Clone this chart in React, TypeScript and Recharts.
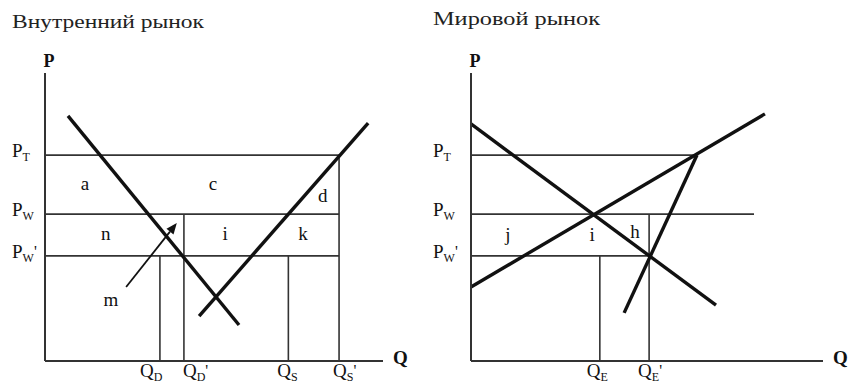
import { ComposedChart, Line, XAxis, YAxis, ReferenceLine, ReferenceDot } from "recharts";

// Внутренний рынок (левый график)
const homePriceTicks = [71.5, 51, 36.5];
const homePriceNames = ["T", "W", "W'"];
const homePriceEnds = [87, 87, 87];
const homeQtyTicks = [34, 41.1, 72, 87];
const homeQtyNames = ["D", "D'", "S", "S'"];
const homeQtyTops = [36.5, 51, 36.5, 71.5];
const homeDemand = [{ q: 6.8, p: 85.1 }, { q: 57.4, p: 12.5 }];
const homeSupply = [{ q: 45.6, p: 15.6 }, { q: 95.6, p: 82.6 }];
const homeArrow = [{ q: 24, p: 25.7 }, { q: 39, p: 47.9 }];
const homeAreaNames = ["a", "c", "d", "n", "i", "k", "m"];
const homeAreaQ = [11.8, 49.7, 82.2, 18, 53.3, 76.3, 19.5];
const homeAreaP = [61.8, 61.5, 57.3, 44.4, 44.4, 44.4, 21.2];

// Мировой рынок (правый график)
const worldPriceTicks = [71.5, 51, 36.5];
const worldPriceNames = ["T", "W", "W'"];
const worldPriceEnds = [64.2, 80.4, 50.6];
const worldQtyTicks = [36.6, 50.6];
const worldQtyNames = ["E", "E'"];
const worldQtyTops = [36.5, 51];
const worldDemand = [{ q: 0, p: 82.3 }, { q: 69.6, p: 19.4 }];
const worldSupply = [{ q: 0, p: 25.7 }, { q: 83.5, p: 85.8 }];
const worldSupplyTariff = [{ q: 43.5, p: 16.7 }, { q: 64.2, p: 71.5 }];
const worldAreaNames = ["j", "i", "h"];
const worldAreaQ = [10.5, 34.4, 46.6];
const worldAreaP = [43.8, 43.8, 44.8];

const FONT = "'Liberation Serif', 'Times New Roman', serif";
const INK = "#111";
const GUIDE = "#333";

const SubLabel = ({ x, y, base, name, anchor }: any) => {
  const prime = name.endsWith("'");
  const sub = prime ? name.slice(0, -1) : name;
  return (
    <text x={x} y={y} textAnchor={anchor} fontFamily={FONT} fill={INK}>
      <tspan fontSize={19}>{base}</tspan>
      <tspan fontSize={12} dy={4}>{sub}</tspan>
      {prime && <tspan fontSize={16} dy={-5}>'</tspan>}
    </text>
  );
};

const makeYTick = (ticks: number[], names: string[], shift: number) => (props: any) => {
  const i = ticks.indexOf(props.payload.value);
  return <SubLabel x={props.x - shift} y={props.y + 2} base="P" name={names[i]} anchor="start" />;
};

const makeXTick = (ticks: number[], names: string[], shifts: number[]) => (props: any) => {
  const i = ticks.indexOf(props.payload.value);
  return <SubLabel x={props.x + shifts[i]} y={props.y + 16} base="Q" name={names[i]} anchor="start" />;
};

const ArrowShape = (props: any) => {
  const { x1, y1, x2, y2 } = props;
  const a = Math.atan2(y2 - y1, x2 - x1);
  const L = 11;
  const W = 4.5;
  const bx = x2 - L * Math.cos(a);
  const by = y2 - L * Math.sin(a);
  const pts = `${x2},${y2} ${bx + W * Math.sin(a)},${by - W * Math.cos(a)} ${bx - W * Math.sin(a)},${by + W * Math.cos(a)}`;
  return (
    <g>
      <line x1={x1} y1={y1} x2={bx} y2={by} stroke={INK} strokeWidth={1.8} />
      <polygon points={pts} fill={INK} />
    </g>
  );
};

const letter = (name: string) => (props: any) => (
  <text x={props.cx} y={props.cy} textAnchor="middle" dominantBaseline="central" fontSize={19} fontFamily={FONT} fill={INK}>
    {name}
  </text>
);

const axisP = (props: any) => {
  const vb = props.viewBox;
  return (
    <text x={vb.x + vb.width + 4} y={vb.y - 6} textAnchor="middle" fontSize={18} fontWeight="bold" fontFamily={FONT} fill={INK}>
      P
    </text>
  );
};

const axisQ = (props: any) => {
  const vb = props.viewBox;
  return (
    <text x={vb.x + vb.width + 10} y={vb.y + 3} textAnchor="start" fontSize={19} fontWeight="bold" fontFamily={FONT} fill={INK}>
      Q
    </text>
  );
};

const thick = { stroke: INK, strokeWidth: 3.4, dot: false, type: "linear" as const, isAnimationActive: false };

const App = () => {
  return (
    <div style={{ position: "absolute", left: 0, top: 0, width: 852, height: 385, background: "#fff", overflow: "hidden" }}>
      <svg width={852} height={385} style={{ position: "absolute", left: 0, top: 0 }}>
        <text x={12} y={28} fontSize={19} fontFamily={FONT} fill="#222" textLength={192} lengthAdjust="spacingAndGlyphs">
          Внутренний рынок
        </text>
        <text x={433} y={25} fontSize={19} fontFamily={FONT} fill="#222" textLength={167} lengthAdjust="spacingAndGlyphs">
          Мировой рынок
        </text>
      </svg>

      <div style={{ position: "absolute", left: 0, top: 0 }}>
        <ComposedChart width={420} height={385} margin={{ top: 73, right: 37, bottom: 0, left: 0 }}>
          <XAxis
            type="number"
            dataKey="q"
            domain={[0, 100]}
            ticks={homeQtyTicks}
            interval={0}
            tick={makeXTick(homeQtyTicks, homeQtyNames, [-20, -1, -11, -6])}
            tickLine={false}
            tickSize={0}
            tickMargin={0}
            height={24}
            axisLine={{ stroke: GUIDE, strokeWidth: 2 }}
            allowDataOverflow
            label={{ content: axisQ }}
          />
          <YAxis
            type="number"
            dataKey="p"
            domain={[0, 100]}
            ticks={homePriceTicks}
            interval={0}
            tick={makeYTick(homePriceTicks, homePriceNames, 33)}
            tickLine={false}
            tickSize={0}
            tickMargin={0}
            width={45}
            axisLine={{ stroke: GUIDE, strokeWidth: 2 }}
            allowDataOverflow
            label={{ content: axisP }}
          />
          {homePriceTicks.map((p, i) => (
            <ReferenceLine key={"hp" + i} segment={[{ x: 0, y: p }, { x: homePriceEnds[i], y: p }]} stroke={GUIDE} strokeWidth={1.6} ifOverflow="visible" />
          ))}
          {homeQtyTicks.map((q, i) => (
            <ReferenceLine key={"hq" + i} segment={[{ x: q, y: 0 }, { x: q, y: homeQtyTops[i] }]} stroke={GUIDE} strokeWidth={1.6} ifOverflow="visible" />
          ))}
          <Line data={homeDemand} dataKey="p" {...thick} />
          <Line data={homeSupply} dataKey="p" {...thick} />
          <ReferenceLine
            segment={[{ x: homeArrow[0].q, y: homeArrow[0].p }, { x: homeArrow[1].q, y: homeArrow[1].p }]}
            shape={ArrowShape}
            ifOverflow="visible"
          />
          {homeAreaNames.map((n, i) => (
            <ReferenceDot key={"ha" + i} x={homeAreaQ[i]} y={homeAreaP[i]} r={0} shape={letter(n)} ifOverflow="visible" />
          ))}
        </ComposedChart>
      </div>

      <div style={{ position: "absolute", left: 420, top: 0 }}>
        <ComposedChart width={432} height={385} margin={{ top: 73, right: 29, bottom: 0, left: 0 }}>
          <XAxis
            type="number"
            dataKey="q"
            domain={[0, 100]}
            ticks={worldQtyTicks}
            interval={0}
            tick={makeXTick(worldQtyTicks, worldQtyNames, [-13, -11])}
            tickLine={false}
            tickSize={0}
            tickMargin={0}
            height={24}
            axisLine={{ stroke: GUIDE, strokeWidth: 2 }}
            allowDataOverflow
            label={{ content: axisQ }}
          />
          <YAxis
            type="number"
            dataKey="p"
            domain={[0, 100]}
            ticks={worldPriceTicks}
            interval={0}
            tick={makeYTick(worldPriceTicks, worldPriceNames, 38)}
            tickLine={false}
            tickSize={0}
            tickMargin={0}
            width={51}
            axisLine={{ stroke: GUIDE, strokeWidth: 2 }}
            allowDataOverflow
            label={{ content: axisP }}
          />
          {worldPriceTicks.map((p, i) => (
            <ReferenceLine key={"wp" + i} segment={[{ x: 0, y: p }, { x: worldPriceEnds[i], y: p }]} stroke={GUIDE} strokeWidth={1.6} ifOverflow="visible" />
          ))}
          {worldQtyTicks.map((q, i) => (
            <ReferenceLine key={"wq" + i} segment={[{ x: q, y: 0 }, { x: q, y: worldQtyTops[i] }]} stroke={GUIDE} strokeWidth={1.6} ifOverflow="visible" />
          ))}
          <Line data={worldDemand} dataKey="p" {...thick} />
          <Line data={worldSupply} dataKey="p" {...thick} />
          <Line data={worldSupplyTariff} dataKey="p" {...thick} />
          {worldAreaNames.map((n, i) => (
            <ReferenceDot key={"wa" + i} x={worldAreaQ[i]} y={worldAreaP[i]} r={0} shape={letter(n)} ifOverflow="visible" />
          ))}
        </ComposedChart>
      </div>
    </div>
  );
};

export default App;
